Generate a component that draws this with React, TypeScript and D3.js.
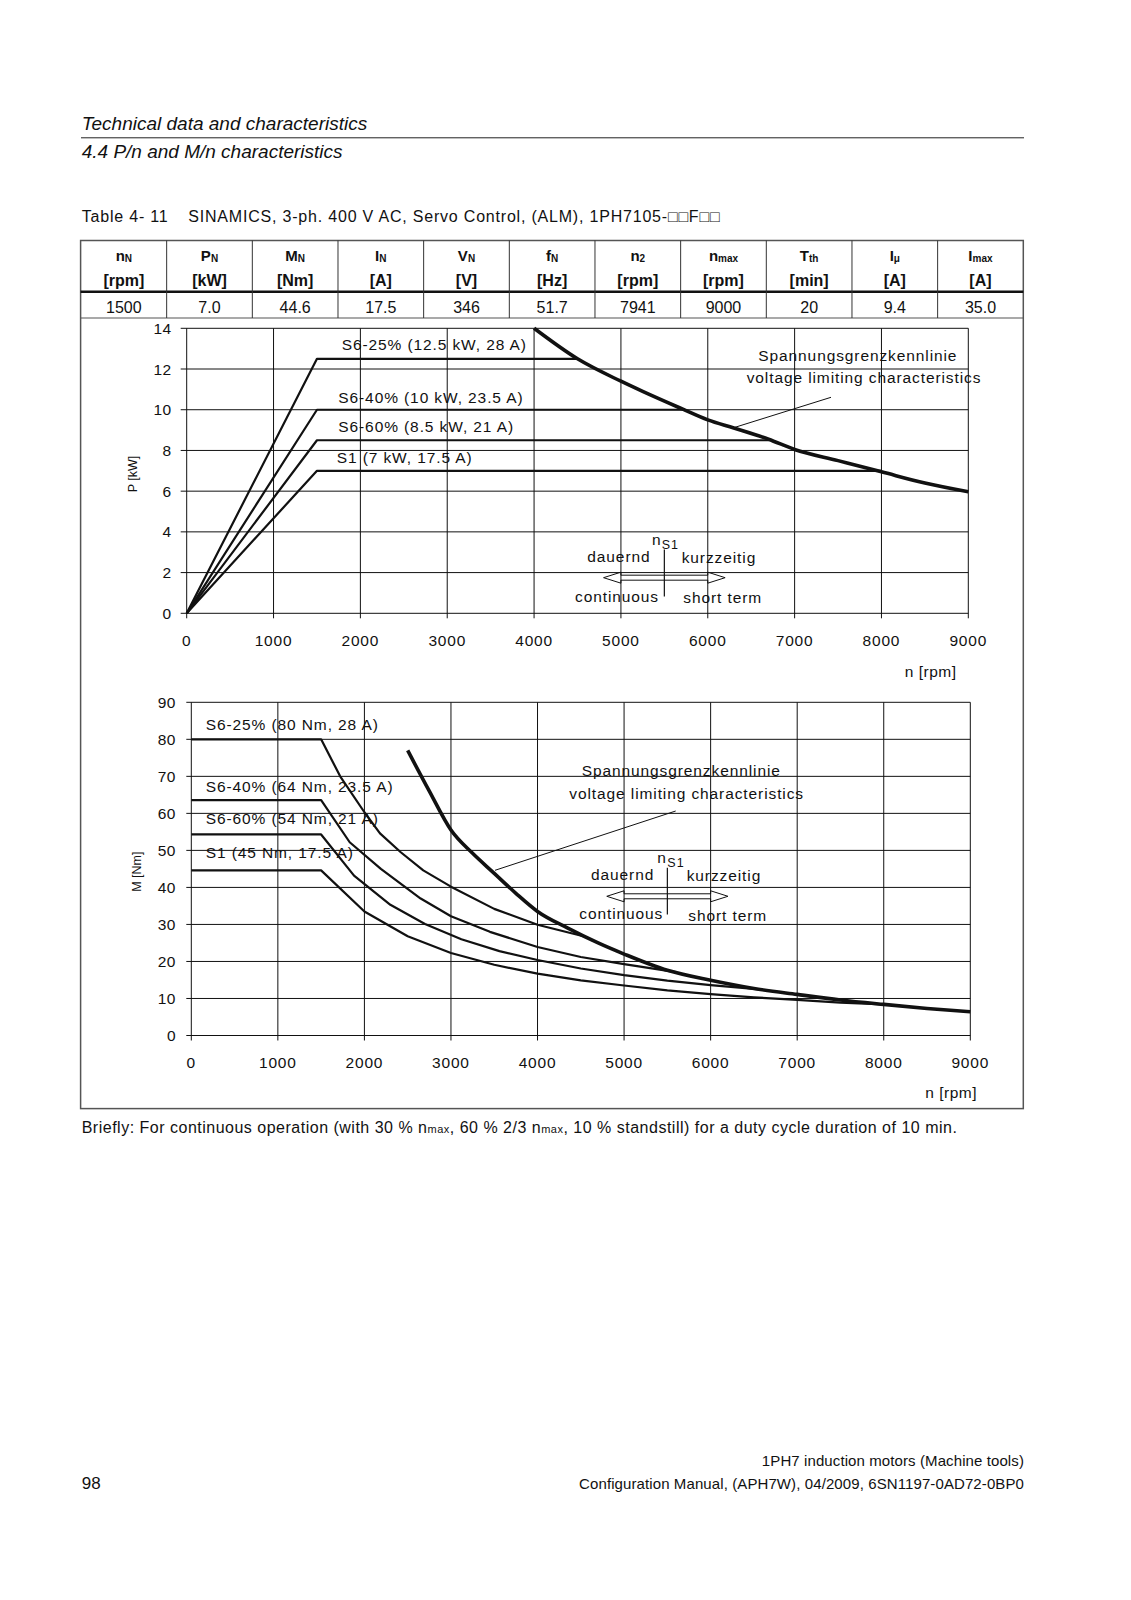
import React from "react";
import * as d3 from "d3";

const FONT = "'Liberation Sans', Arial, Helvetica, sans-serif";

// ---- table data ----
const headerMain = ["n", "P", "M", "I", "V", "f", "n", "n", "T", "I", "I"];
const headerSub = ["N", "N", "N", "N", "N", "N", "2", "max", "th", "μ", "max"];
const headerUnits = ["[rpm]", "[kW]", "[Nm]", "[A]", "[V]", "[Hz]", "[rpm]", "[rpm]", "[min]", "[A]", "[A]"];
const tableValues = ["1500", "7.0", "44.6", "17.5", "346", "51.7", "7941", "9000", "20", "9.4", "35.0"];

// ---- axes ----
const nTicks = [0, 1000, 2000, 3000, 4000, 5000, 6000, 7000, 8000, 9000];
const pTicks = [0, 2, 4, 6, 8, 10, 12, 14];
const mTicks = [0, 10, 20, 30, 40, 50, 60, 70, 80, 90];

// ---- P/n chart series [n rpm, P kW] ----
const pS6_25: [number, number][] = [[0, 0], [1500, 12.5], [4500, 12.5]];
const pS6_40: [number, number][] = [[0, 0], [1500, 10], [5720, 10]];
const pS6_60: [number, number][] = [[0, 0], [1500, 8.5], [6700, 8.5]];
const pS1: [number, number][] = [[0, 0], [1500, 7], [8000, 7]];
const pVoltage: [number, number][] = [
  [4000, 14], [4500, 12.5], [5000, 11.4], [5250, 10.9], [5700, 10.05], [6000, 9.5],
  [6300, 9.1], [6700, 8.55], [7000, 8.05], [7500, 7.5], [8000, 6.95], [8500, 6.4], [9000, 5.97],
];
const pLabels = ["S6-25% (12.5 kW, 28 A)", "S6-40% (10 kW, 23.5 A)", "S6-60% (8.5 kW, 21 A)", "S1 (7 kW, 17.5 A)"];

// ---- M/n chart series [n rpm, M Nm] ----
const mS6_25: [number, number][] = [
  [0, 80], [1500, 80], [1720, 70], [2000, 60.3], [2180, 54.6], [2420, 49.5], [2680, 44.6],
  [3000, 40.2], [3500, 34.2], [4000, 29.9], [4530, 26.8],
];
const mS6_40: [number, number][] = [
  [0, 63.6], [1500, 63.6], [1830, 52.2], [2190, 45.0], [2650, 37.0], [3000, 32.2],
  [3450, 28.0], [4000, 23.9], [4500, 21.2], [5000, 19.3], [5600, 17.1],
];
const mS6_60: [number, number][] = [
  [0, 54.3], [1500, 54.3], [1880, 43.2], [2300, 35.3], [2700, 30.1], [3120, 26.0],
  [3560, 22.8], [4000, 20.4], [4500, 18.1], [5000, 16.3], [5500, 14.8], [6000, 13.6], [6600, 12.4],
];
const mS1: [number, number][] = [
  [0, 44.6], [1500, 44.6], [2000, 33.5], [2500, 26.8], [3000, 22.3], [3500, 19.1], [4000, 16.7],
  [4500, 14.9], [5000, 13.5], [5500, 12.2], [6000, 11.2], [6500, 10.3], [7000, 9.6], [7500, 8.9], [8000, 8.4],
];
const mVoltage: [number, number][] = [
  [2500, 77], [2750, 66], [3000, 55.5], [3250, 49.2], [3500, 43.8], [3750, 38.4], [4000, 33.5],
  [4350, 29], [4700, 25], [5000, 22], [5500, 17.6], [6000, 14.9], [6500, 12.7], [7000, 11.1],
  [7500, 9.6], [8000, 8.4], [8500, 7.3], [9000, 6.4],
];
const mLabels = ["S6-25% (80 Nm, 28 A)", "S6-40% (64 Nm, 23.5 A)", "S6-60% (54 Nm, 21 A)", "S1 (45 Nm, 17.5 A)"];

const nS1 = 5500;

function arrowPath(x: number, y: number, half: number, head: number) {
  const xl = x - half, xr = x + half, bl = xl + head, br = xr - head;
  return `M${bl},${y - 2.5}L${bl},${y - 5.5}L${xl},${y}L${bl},${y + 5.5}L${bl},${y + 2.5}` +
    `L${br},${y + 2.5}L${br},${y + 5.5}L${xr},${y}L${br},${y - 5.5}L${br},${y - 2.5}Z`;
}

const T = (p: any) => <text fontFamily={FONT} fill="#111" {...p} />;

export default function App() {
  // top chart scales
  const xP = d3.scaleLinear().domain([0, 9000]).range([186.7, 968.3]);
  const yP = d3.scaleLinear().domain([0, 14]).range([613.3, 328.3]);
  // bottom chart scales
  const xM = d3.scaleLinear().domain([0, 9000]).range([191.3, 970.3]);
  const yM = d3.scaleLinear().domain([0, 90]).range([1035.5, 702.3]);

  const lineP = d3.line<[number, number]>().x(d => xP(d[0])).y(d => yP(d[1]));
  const lineM = d3.line<[number, number]>().x(d => xM(d[0])).y(d => yM(d[1]));
  const lineMs = d3.line<[number, number]>().x(d => xM(d[0])).y(d => yM(d[1])).curve(d3.curveMonotoneX);
  const linePs = d3.line<[number, number]>().x(d => xP(d[0])).y(d => yP(d[1])).curve(d3.curveMonotoneX);

  const tblL = 81, tblR = 1023.3, colW = (tblR - tblL) / 11;
  const tblTop = 240.5, hdrLine = 291.7, rowBot = 318;

  const lab = { fontSize: 15.5, letterSpacing: 0.9 };

  return (
    <svg width={1131} height={1600} style={{ position: "absolute", left: 0, top: 0, background: "#fff" }}>
      <rect x={0} y={0} width={1131} height={1600} fill="#fff" />
      {/* page heading */}
      <T x={81.7} y={130} fontSize={19} fontStyle="italic">Technical data and characteristics</T>
      <line x1={81} x2={1024} y1={137.8} y2={137.8} stroke="#222" strokeWidth={1} />
      <T x={81.7} y={157.5} fontSize={19} fontStyle="italic">4.4 P/n and M/n characteristics</T>

      {/* caption */}
      <T x={81.7} y={222} fontSize={16} letterSpacing={0.8}>Table 4- 11</T>
      <T x={188.3} y={222} fontSize={16} letterSpacing={0.8}>SINAMICS, 3-ph. 400 V AC, Servo Control, (ALM), 1PH7105-□□F□□</T>

      {/* outer box */}
      <rect x={80.6} y={tblTop} width={tblR - 80.6} height={1108.6 - tblTop} fill="none" stroke="#555" strokeWidth={1.5} />
      <line x1={80.6} x2={tblR} y1={hdrLine} y2={hdrLine} stroke="#111" strokeWidth={2.5} />
      <line x1={80.6} x2={tblR} y1={rowBot} y2={rowBot} stroke="#555" strokeWidth={1.2} />
      {headerMain.map((_, i) =>
        i > 0 ? <line key={"cd" + i} x1={tblL + i * colW} x2={tblL + i * colW} y1={tblTop} y2={rowBot} stroke="#333" strokeWidth={1} /> : null
      )}
      {headerMain.map((h, i) => (
        <T key={"h" + i} x={tblL + (i + 0.5) * colW} y={261} fontSize={15} fontWeight="bold" textAnchor="middle">
          {h}<tspan fontSize={10} dy={0.5}>{headerSub[i]}</tspan>
        </T>
      ))}
      {headerUnits.map((u, i) => (
        <T key={"u" + i} x={tblL + (i + 0.5) * colW} y={286} fontSize={16} fontWeight="bold" textAnchor="middle">{u}</T>
      ))}
      {tableValues.map((v, i) => (
        <T key={"v" + i} x={tblL + (i + 0.5) * colW} y={312.5} fontSize={16} textAnchor="middle">{v}</T>
      ))}

      {/* ===== top chart P/n ===== */}
      <g stroke="#111" strokeWidth={1}>
        {pTicks.map(v => <line key={"pg" + v} x1={xP(0) - 6} x2={xP(9000)} y1={yP(v)} y2={yP(v)} />)}
        {nTicks.map(v => <line key={"png" + v} x1={xP(v)} x2={xP(v)} y1={yP(14)} y2={yP(0) + 5} />)}
      </g>
      {pTicks.map(v => <T key={"pt" + v} x={171.7} y={yP(v) + 5.5} fontSize={15.5} letterSpacing={0.5} textAnchor="end">{v}</T>)}
      {nTicks.map(v => <T key={"pnt" + v} x={xP(v)} y={645.5} fontSize={15.5} letterSpacing={0.8} textAnchor="middle">{v}</T>)}
      <T x={956.5} y={677} fontSize={15.5} letterSpacing={0.5} textAnchor="end">n [rpm]</T>
      <T transform="translate(133,474) rotate(-90)" fontSize={12.5} textAnchor="middle" dominantBaseline="central">P [kW]</T>

      <g fill="none" stroke="#111" strokeLinejoin="round">
        {[pS6_25, pS6_40, pS6_60, pS1].map((s, i) => <path key={"ps" + i} d={lineP(s) || ""} strokeWidth={2.2} />)}
        <path d={linePs(pVoltage) || ""} strokeWidth={3.6} />
      </g>
      <T x={341.7} y={350} {...lab}>{pLabels[0]}</T>
      <T x={338.3} y={402.7} {...lab}>{pLabels[1]}</T>
      <T x={338.3} y={431.7} {...lab}>{pLabels[2]}</T>
      <T x={336.7} y={463.3} {...lab}>{pLabels[3]}</T>
      <T x={758.3} y={360.5} {...lab}>Spannungsgrenzkennlinie</T>
      <T x={746.7} y={383} {...lab}>voltage limiting characteristics</T>
      <line x1={831} y1={397.3} x2={735} y2={427.3} stroke="#111" strokeWidth={1} />
      {/* nS1 marker top */}
      <line x1={xP(nS1)} x2={xP(nS1)} y1={yP(3.14)} y2={yP(0.82)} stroke="#111" strokeWidth={1.2} />
      <path d={arrowPath(xP(nS1), yP(1.75), xP(6200) - xP(nS1), xP(5000) - xP(4800))} fill="none" stroke="#111" strokeWidth={1} />
      <T x={652} y={545} fontSize={15.5}>n</T>
      <T x={661.7} y={549} fontSize={12.5} letterSpacing={1}>S1</T>
      <T x={587.3} y={562} {...lab}>dauernd</T>
      <T x={681.7} y={563} {...lab}>kurzzeitig</T>
      <T x={575} y={601.5} {...lab}>continuous</T>
      <T x={683.3} y={602.5} {...lab}>short term</T>

      {/* ===== bottom chart M/n ===== */}
      <g stroke="#111" strokeWidth={1}>
        {mTicks.map(v => <line key={"mg" + v} x1={xM(0) - 5} x2={xM(9000)} y1={yM(v)} y2={yM(v)} />)}
        {nTicks.map(v => <line key={"mng" + v} x1={xM(v)} x2={xM(v)} y1={yM(90)} y2={yM(0) + 5} />)}
      </g>
      {mTicks.map(v => <T key={"mt" + v} x={176} y={yM(v) + 5.5} fontSize={15.5} letterSpacing={0.5} textAnchor="end">{v}</T>)}
      {nTicks.map(v => <T key={"mnt" + v} x={xM(v)} y={1067.5} fontSize={15.5} letterSpacing={0.8} textAnchor="middle">{v}</T>)}
      <T x={977} y={1098} fontSize={15.5} letterSpacing={0.5} textAnchor="end">n [rpm]</T>
      <T transform="translate(137,871.7) rotate(-90)" fontSize={12.5} textAnchor="middle" dominantBaseline="central">M [Nm]</T>

      <g fill="none" stroke="#111" strokeLinejoin="round">
        {[mS6_25, mS6_40, mS6_60, mS1].map((s, i) => <path key={"ms" + i} d={lineM(s) || ""} strokeWidth={2.2} />)}
        <path d={lineMs(mVoltage) || ""} strokeWidth={3.6} />
      </g>
      <T x={205.7} y={730} {...lab}>{mLabels[0]}</T>
      <T x={205.7} y={792.3} {...lab}>{mLabels[1]}</T>
      <T x={205.7} y={824.3} {...lab}>{mLabels[2]}</T>
      <T x={205.7} y={858.3} {...lab}>{mLabels[3]}</T>
      <T x={581.7} y={775.5} {...lab}>Spannungsgrenzkennlinie</T>
      <T x={569.3} y={798.5} {...lab}>voltage limiting characteristics</T>
      <line x1={675.7} y1={811} x2={495} y2={870.3} stroke="#111" strokeWidth={1} />
      <line x1={xM(nS1)} x2={xM(nS1)} y1={yM(45.3)} y2={yM(32.7)} stroke="#111" strokeWidth={1.2} />
      <path d={arrowPath(xM(nS1), yM(37.6), xM(6200) - xM(nS1), xM(5000) - xM(4800))} fill="none" stroke="#111" strokeWidth={1} />
      <T x={657.3} y={862.5} fontSize={15.5}>n</T>
      <T x={667.3} y={866.5} fontSize={12.5} letterSpacing={1}>S1</T>
      <T x={591} y={879.5} {...lab}>dauernd</T>
      <T x={686.7} y={880.5} {...lab}>kurzzeitig</T>
      <T x={579.3} y={918.5} {...lab}>continuous</T>
      <T x={688.3} y={920.5} {...lab}>short term</T>

      {/* footnote */}
      <T x={81.7} y={1133} fontSize={16} letterSpacing={0.5}>
        Briefly: For continuous operation (with 30 % n<tspan fontSize={11}>max</tspan>, 60 % 2/3 n<tspan fontSize={11}>max</tspan>, 10 % standstill) for a duty cycle duration of 10 min.
      </T>

      {/* page footer */}
      <T x={1024} y={1466} fontSize={15} letterSpacing={0.1} textAnchor="end">1PH7 induction motors (Machine tools)</T>
      <T x={81.7} y={1489} fontSize={17}>98</T>
      <T x={1024} y={1489} fontSize={15} letterSpacing={0.1} textAnchor="end">Configuration Manual, (APH7W), 04/2009, 6SN1197-0AD72-0BP0</T>
    </svg>
  );
}
